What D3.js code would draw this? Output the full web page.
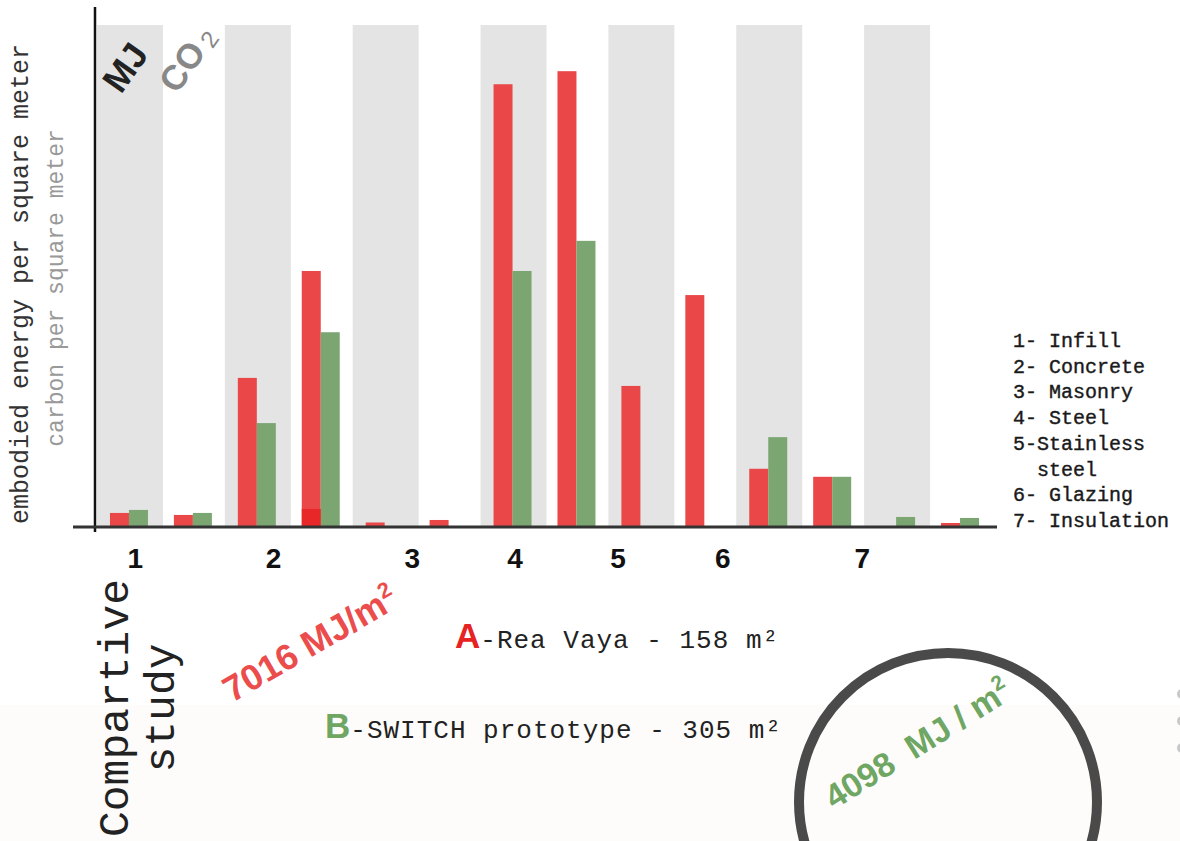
<!DOCTYPE html>
<html lang="en">
<head>
<meta charset="UTF-8">
<title>Compartive study</title>
<script src="https://cdn.jsdelivr.net/npm/d3@7"></script>
<style>
  body { margin: 0; background: #fff; }
  svg { display: block; }
  text { font-family: 'Liberation Mono', monospace; }
</style>
</head>
<body>
<script>
    const [width, height] = [1180, 841]
    const categories = ['1', '2', '3', '4', '5', '6', '7']
    const metrics = ['MJ', 'CO2']
    // bar heights in % of the plot, order: 1-MJ, 1-CO2, 2-MJ, 2-CO2 ...
    const reaVaya = [2.8, 2.4, 29.7, 51.0, 0.9, 1.4, 88.2, 90.8, 28.1, 46.2, 11.6, 10.0, 0, 0.8]
    const switchProto = [3.4, 2.8, 20.7, 38.8, 0, 0, 51.0, 57.0, 0, 0, 17.9, 10.0, 2.0, 1.8]
    const reaVayaDark = [0, 0, 0, 3.6, 0, 0, 0, 0, 0, 0, 0, 0, 0, 0]
    // where the category numbers sit, in slot units
    const tickAt = [0.6, 2.76, 4.93, 6.54, 8.15, 9.79, 11.97]
    const materials = ['1- Infill', '2- Concrete', '3- Masonry', '4- Steel', '5-Stainless', '  steel', '6- Glazing', '7- Insulation']

    const red = '#ea4848', green = '#7ba672'
    const sans = "'Liberation Sans', Arial, sans-serif"
    const slots = categories.flatMap(c => metrics.map(m => c + '-' + m))
    const [plotLeft, plotRight, plotTop, base] = [97, 992, 25, 527]

    const svg = d3.select('body').append('svg')
        .attr('width', width)
        .attr('height', height)

    // very faint warm tint on the lower part of the sheet
    svg.append('rect').attr('x', 0).attr('y', 705).attr('width', width).attr('height', height - 705)
        .attr('fill', '#fdfcfa')

    const x = d3.scaleBand().domain(slots).range([plotLeft, plotRight])
    const xLin = d3.scaleLinear().domain([0, slots.length]).range([plotLeft, plotRight])
    const inner = d3.scaleBand().domain(['A', 'B']).range([0, 38])
    const y = d3.scaleLinear().domain([0, 100]).range([base, plotTop])

    // grey bands behind the MJ slots
    svg.append('g').selectAll('rect')
        .data(slots.filter(s => s.endsWith('MJ')))
        .join('rect')
            .attr('x', d => x(d))
            .attr('y', plotTop)
            .attr('width', x.bandwidth() + 2)
            .attr('height', base - plotTop)
            .attr('fill', '#e4e4e4')

    const bars = slots.map((s, i) => ({slot: s, a: reaVaya[i], b: switchProto[i], dark: reaVayaDark[i]}))
    const g = svg.append('g').selectAll('g')
        .data(bars)
        .join('g')
            .attr('transform', d => `translate(${x(d.slot) + x.bandwidth() / 2 - 19}, 0)`)
    g.filter(d => d.a > 0).append('rect')
        .attr('x', inner('A')).attr('width', inner.bandwidth())
        .attr('y', d => y(d.a)).attr('height', d => base - y(d.a))
        .attr('fill', red)
    g.filter(d => d.b > 0).append('rect')
        .attr('x', inner('B')).attr('width', inner.bandwidth())
        .attr('y', d => y(d.b)).attr('height', d => base - y(d.b))
        .attr('fill', green)
    g.filter(d => d.dark > 0).append('rect')
        .attr('x', inner('A')).attr('width', inner.bandwidth())
        .attr('y', d => y(d.dark)).attr('height', d => base - y(d.dark))
        .attr('fill', '#e82828')

    // axes
    svg.append('line').attr('x1', 95).attr('x2', 95).attr('y1', 7).attr('y2', 532)
        .attr('stroke', '#111').attr('stroke-width', 2.5)
    svg.append('line').attr('x1', 73).attr('x2', 997).attr('y1', base).attr('y2', base)
        .attr('stroke', '#333').attr('stroke-width', 3)

    svg.append('g').selectAll('text')
        .data(categories)
        .join('text')
            .attr('x', (d, i) => xLin(tickAt[i]))
            .attr('y', 568)
            .attr('text-anchor', 'middle')
            .style('font-family', sans)
            .style('font-weight', 'bold')
            .style('font-size', '28px')
            .attr('fill', '#111')
            .text(d => d)

    // unit tags in the first two slots
    svg.append('text')
        .attr('transform', 'translate(121, 95) rotate(-55)')
        .style('font-family', sans)
        .style('font-weight', 'bold').style('font-size', '36px')
        .attr('fill', '#222')
        .text('MJ')
    const co = svg.append('text')
        .attr('transform', 'translate(177, 95) rotate(-55)')
        .style('font-family', sans)
        .style('font-size', '35px')
        .attr('fill', '#888')
    co.append('tspan').style('font-weight', 'bold').text('CO')
    co.append('tspan').attr('dx', 5).attr('dy', 3).style('font-size', '24px').text('2')

    // y labels
    svg.append('text')
        .attr('transform', 'translate(28, 284) rotate(-90)')
        .attr('text-anchor', 'middle')
        .style('font-size', '25px')
        .attr('fill', '#333')
        .text('embodied energy per square meter')
    svg.append('text')
        .attr('transform', 'translate(63, 288) rotate(-90)')
        .attr('text-anchor', 'middle')
        .style('font-size', '23px')
        .attr('fill', '#999')
        .text('carbon per square meter')

    // materials list
    svg.append('g').selectAll('text')
        .data(materials)
        .join('text')
            .attr('x', 1013)
            .attr('y', (d, i) => 347 + i * 25.7)
            .attr('xml:space', 'preserve')
            .style('white-space', 'pre')
            .style('font-size', '20px')
            .attr('fill', '#1a1a1a')
            .attr('stroke', '#1a1a1a').attr('stroke-width', 0.4)
            .text(d => d)

    // comparison block
    svg.append('text')
        .attr('transform', 'translate(128, 708) rotate(-90)')
        .attr('text-anchor', 'middle')
        .style('font-size', '43px')
        .attr('fill', '#222')
        .text('Compartive')
    svg.append('text')
        .attr('transform', 'translate(174, 708) rotate(-90)')
        .attr('text-anchor', 'middle')
        .style('font-size', '43px')
        .attr('fill', '#222')
        .text('study')

    const totalA = svg.append('text')
        .attr('transform', 'translate(232, 703) rotate(-30)')
        .style('font-family', sans)
        .style('font-weight', 'bold').style('font-size', '36px')
        .attr('fill', '#eb4c4c')
    totalA.append('tspan').text('7016 MJ/m')
    totalA.append('tspan').attr('dy', -14).style('font-size', '22px').text('2')

    const legendA = svg.append('text').attr('x', 455).attr('y', 648).attr('fill', '#222')
    legendA.append('tspan').style('font-family', sans)
        .style('font-weight', 'bold').style('font-size', '35px').attr('fill', '#e62222').text('A')
    legendA.append('tspan').style('font-size', '26px').style('letter-spacing', '1px').text('-Rea Vaya - 158 m²')

    const legendB = svg.append('text').attr('x', 325).attr('y', 738).attr('fill', '#222')
    legendB.append('tspan').style('font-family', sans)
        .style('font-weight', 'bold').style('font-size', '35px').attr('fill', '#6fa663').text('B')
    legendB.append('tspan').style('font-size', '26px').style('letter-spacing', '1px').text('-SWITCH prototype - 305 m²')

    svg.append('circle').attr('cx', 948).attr('cy', 802).attr('r', 149)
        .attr('fill', 'none').attr('stroke', '#4a4a4a').attr('stroke-width', 10)

    const totalB = svg.append('text')
        .attr('transform', 'translate(834, 810) rotate(-32)')
        .style('font-family', sans)
        .style('font-weight', 'bold').style('font-size', '34px')
        .attr('fill', '#6fa663')
        .attr('xml:space', 'preserve').style('white-space', 'pre')
    totalB.append('tspan').text('4098  MJ / m')
    totalB.append('tspan').attr('dy', -14).style('font-size', '21px').text('2')

    // cut-off bullets on the right edge
    svg.append('g').selectAll('circle')
        .data([694, 721, 748])
        .join('circle')
            .attr('cx', 1182).attr('cy', d => d).attr('r', 5)
            .attr('fill', '#c8c8c8')
</script>
</body>
</html>
